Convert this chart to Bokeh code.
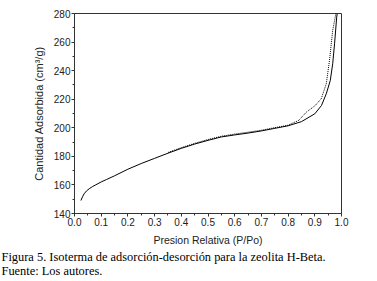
from bokeh.plotting import figure
from bokeh.models import SingleIntervalTicker, Range1d, Title, CustomJSTickFormatter
from bokeh.embed import file_html
from bokeh.resources import INLINE

# Adsorption branch (solid)
ads_x = [0.024, 0.03, 0.036, 0.045, 0.055, 0.067, 0.08, 0.10, 0.12, 0.15, 0.20, 0.25,
         0.30, 0.35, 0.40, 0.45, 0.50, 0.55, 0.60, 0.65, 0.70, 0.75, 0.80, 0.85,
         0.90, 0.925, 0.943, 0.958, 0.967, 0.974, 0.982, 0.984]
ads_y = [149.1, 151.7, 153.8, 155.8, 157.3, 158.8, 160.1, 162.1, 163.8, 166.4, 171.0, 175.0,
         178.6, 182.2, 185.6, 188.6, 191.2, 193.6, 195.0, 196.3, 197.8, 199.6, 201.4, 204.3,
         209.8, 215.6, 223.8, 233.1, 244.8, 258.8, 277.4, 280.0]

# Desorption branch (dotted)
des_x = [0.979, 0.967, 0.955, 0.943, 0.924, 0.90, 0.868, 0.84, 0.80, 0.75, 0.70, 0.65,
         0.60, 0.55, 0.50, 0.45, 0.40, 0.35]
des_y = [280.0, 268.1, 247.1, 230.8, 220.3, 215.3, 210.9, 205.2, 201.8, 200.1, 198.3, 196.9,
         195.6, 194.1, 191.8, 189.1, 186.1, 182.7]

x_label = "Presion Relativa (P/Po)"
y_label = "Cantidad Adsorbida (cm³/g)"
caption1 = "Figura 5. Isoterma de adsorción-desorción para la zeolita H-Beta."
caption2 = "Fuente: Los autores."

p = figure(width=377, height=281, output_backend="svg", toolbar_location=None,
           x_range=Range1d(0, 1.0), y_range=Range1d(140, 280),
           min_border_left=74, min_border_right=36, min_border_top=13,
           min_border_bottom=68)

p.line(ads_x, ads_y, line_color="black", line_width=1)
p.line(des_x, des_y, line_color="black", line_width=1, line_dash="1 1")

p.grid.visible = False
p.outline_line_color = "#333333"
p.outline_line_width = 1
p.background_fill_color = "white"
p.border_fill_color = "white"

p.xaxis.ticker = SingleIntervalTicker(interval=0.1, num_minor_ticks=2)
p.yaxis.ticker = SingleIntervalTicker(interval=20, num_minor_ticks=2)
p.xaxis.formatter = CustomJSTickFormatter(code="return tick.toFixed(1);")

for ax in (p.xaxis[0], p.yaxis[0]):
    ax.axis_line_color = "#333333"
    ax.major_tick_line_color = "#333333"
    ax.minor_tick_line_color = "#333333"
    ax.major_tick_in = 0
    ax.major_tick_out = 3
    ax.minor_tick_in = 0
    ax.minor_tick_out = 2
    ax.major_label_text_font = "Liberation Sans"
    ax.major_label_text_font_size = "10px"
    ax.major_label_text_color = "#222222"
    ax.major_label_standoff = 1
    ax.axis_label_text_font = "Liberation Sans"
    ax.axis_label_text_font_style = "normal"
    ax.axis_label_text_color = "#222222"

p.xaxis.axis_label_text_font_size = "10.5px"
p.yaxis.axis_label_text_font_size = "11px"
p.xaxis.axis_label_standoff = 5
p.yaxis.axis_label_standoff = 6
p.xaxis.axis_label = x_label
p.yaxis.axis_label = y_label

t1 = Title(text=caption1, align="left", offset=-73, text_font="Liberation Serif",
           text_font_size="12.4px", text_font_style="normal", text_color="black",
           standoff=-2)
t2 = Title(text=caption2, align="left", offset=-73, text_font="Liberation Serif",
           text_font_size="12.4px", text_font_style="normal", text_color="black",
           standoff=-2)
p.add_layout(t1, "below")
p.add_layout(t2, "below")

open("out.html", "w").write(file_html(p, INLINE))
